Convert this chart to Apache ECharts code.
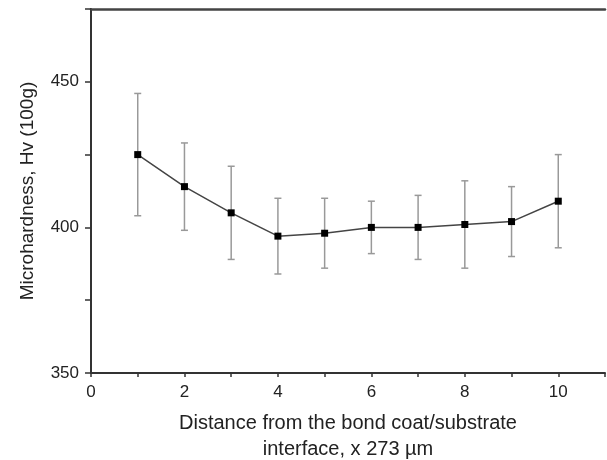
<!DOCTYPE html>
<html>
<head>
<meta charset="utf-8">
<script src="https://cdn.jsdelivr.net/npm/echarts@6/dist/echarts.min.js"></script>
<style>
  html, body { margin: 0; padding: 0; background: #fff; }
  #chart { width: 607px; height: 460px; }
</style>
</head>
<body>
<div id="chart"></div>
<script>
// distance steps (x 273 um)
const xValues = [1, 2, 3, 4, 5, 6, 7, 8, 9, 10];
// mean microhardness
const meanValues = [425, 414, 405, 397, 398, 400, 400, 401, 402, 409];
// error bar ends
const upperValues = [446, 429, 421, 410, 410, 409, 411, 416, 414, 425];
const lowerValues = [404, 399, 389, 384, 386, 391, 389, 386, 390, 393];

const fontFamily = '"Liberation Sans", Arial, sans-serif';

const lineData = xValues.map((x, i) => [x, meanValues[i]]);
const errData = xValues.map((x, i) => [x, lowerValues[i], upperValues[i]]);

const chart = echarts.init(document.getElementById('chart'));

chart.setOption({
  animation: false,
  backgroundColor: '#fff',
  grid: { left: 91, top: 9, right: 2, bottom: 87, containLabel: false, outerBoundsMode: 'none' },
  xAxis: [
    {
      type: 'value',
      min: 0,
      max: 11,
      interval: 1,
      position: 'bottom',
      name: 'Distance from the bond coat/substrate\ninterface, x 273 µm',
      nameLocation: 'middle',
      nameGap: 37,
      nameTextStyle: { fontFamily, fontSize: 20, color: '#222', lineHeight: 26, verticalAlign: 'top' },
      axisLine: { lineStyle: { color: '#333', width: 2 } },
      axisTick: { inside: false, length: 4, lineStyle: { color: '#333', width: 1.5 } },
      axisLabel: {
        fontFamily, fontSize: 17, color: '#222', margin: 11,
        formatter: v => (v % 2 === 0 && v <= 10 ? String(v) : '')
      },
      splitLine: { show: false }
    },
    {
      type: 'value',
      min: 0,
      max: 11,
      position: 'top',
      axisLine: { lineStyle: { color: '#444', width: 2.5 } },
      axisTick: { show: false },
      axisLabel: { show: false },
      splitLine: { show: false }
    }
  ],
  yAxis: {
    type: 'value',
    min: 350,
    max: 475,
    interval: 25,
    name: 'Microhardness, Hv (100g)',
    nameLocation: 'middle',
    nameGap: 54,
    nameTextStyle: { fontFamily, fontSize: 19, color: '#222' },
    axisLine: { show: true, lineStyle: { color: '#333', width: 2 } },
    axisTick: { inside: false, length: 6, lineStyle: { color: '#333', width: 1.5 } },
    axisLabel: {
      fontFamily, fontSize: 17, color: '#222', margin: 12,
      formatter: v => (v % 50 === 0 && v < 475 ? String(v) : '')
    },
    splitLine: { show: false }
  },
  series: [
    {
      type: 'custom',
      xAxisIndex: 0,
      data: errData,
      z: 1,
      renderItem: (params, api) => {
        const x = api.value(0);
        const lo = api.coord([x, api.value(1)]);
        const hi = api.coord([x, api.value(2)]);
        const cap = 3.5;
        const style = { stroke: '#999', lineWidth: 1.5 };
        return {
          type: 'group',
          children: [
            { type: 'line', shape: { x1: hi[0], y1: hi[1], x2: lo[0], y2: lo[1] }, style },
            { type: 'line', shape: { x1: hi[0] - cap, y1: hi[1], x2: hi[0] + cap, y2: hi[1] }, style },
            { type: 'line', shape: { x1: lo[0] - cap, y1: lo[1], x2: lo[0] + cap, y2: lo[1] }, style }
          ]
        };
      }
    },
    {
      type: 'line',
      xAxisIndex: 0,
      data: lineData,
      z: 3,
      symbol: 'rect',
      symbolSize: 7,
      itemStyle: { color: '#000' },
      lineStyle: { color: '#444', width: 1.5 }
    }
  ]
});
</script>
</body>
</html>
